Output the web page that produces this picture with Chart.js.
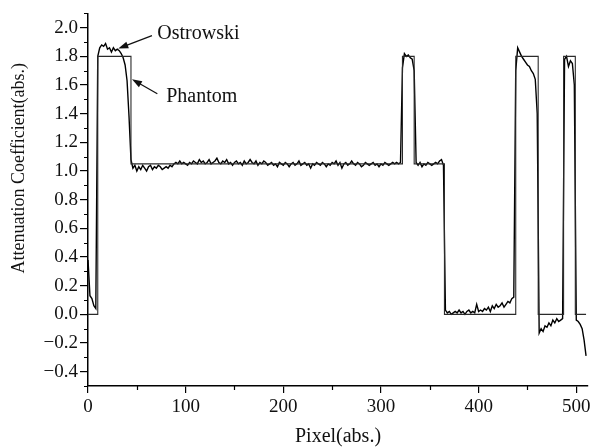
<!DOCTYPE html>
<html>
<head>
<meta charset="utf-8">
<script src="https://cdn.jsdelivr.net/npm/chart.js@4/dist/chart.umd.min.js"></script>
<style>
  html, body { margin: 0; padding: 0; background: #fff; }
  #wrap { width: 594px; height: 447px; }
</style>
</head>
<body>
<div id="wrap"><canvas id="profileChart"></canvas></div>
<script>
// Ostrowski reconstruction, one value every 2 pixels (0, 2, 4 ... 510)
const ostValue = [
    0.38, 0.13, 0.11, 0.06, 0.04, 1.80, 1.86, 1.88, 1.87, 1.89,   // 0-18
    1.85, 1.86, 1.83, 1.86, 1.84, 1.85, 1.84, 1.82, 1.79, 1.74,   // 20-38
    1.63, 1.38, 1.08, 1.02, 1.04, 1.00, 1.03, 1.01, 1.04, 1.02,   // 40-58
    1.00, 1.03, 1.04, 1.01, 1.03, 1.02, 1.04, 1.03, 1.01, 1.02,   // 60-78
    1.03, 1.02, 1.04, 1.03, 1.05, 1.06, 1.05, 1.07, 1.05, 1.06,   // 80-98
    1.05, 1.04, 1.06, 1.05, 1.07, 1.06, 1.05, 1.08, 1.06, 1.07,   // 100-118
    1.05, 1.06, 1.08, 1.05, 1.06, 1.07, 1.09, 1.06, 1.05, 1.07,   // 120-138
    1.06, 1.08, 1.05, 1.06, 1.04, 1.06, 1.07, 1.05, 1.06, 1.04,   // 140-158
    1.07, 1.05, 1.06, 1.08, 1.06, 1.05, 1.07, 1.04, 1.06, 1.05,   // 160-178
    1.07, 1.06, 1.04, 1.05, 1.06, 1.04, 1.05, 1.03, 1.06, 1.05,   // 180-198
    1.04, 1.06, 1.05, 1.03, 1.05, 1.06, 1.04, 1.05, 1.07, 1.04,   // 200-218
    1.05, 1.06, 1.04, 1.05, 1.02, 1.05, 1.04, 1.06, 1.05, 1.04,   // 220-238
    1.06, 1.05, 1.03, 1.05, 1.04, 1.06, 1.05, 1.07, 1.04, 1.06,   // 240-258
    1.02, 1.05, 1.06, 1.04, 1.05, 1.07, 1.05, 1.04, 1.06, 1.05,   // 260-278
    1.03, 1.04, 1.06, 1.05, 1.04, 1.05, 1.06, 1.04, 1.05, 1.03,   // 280-298
    1.05, 1.04, 1.06, 1.05, 1.04, 1.05, 1.06, 1.05, 1.06, 1.05,   // 300-318
    1.06, 1.72, 1.82, 1.80, 1.81, 1.79, 1.78, 1.70, 1.06, 1.04,   // 320-338
    1.06, 1.03, 1.05, 1.04, 1.06, 1.05, 1.04, 1.05, 1.06, 1.05,   // 340-358
    1.07, 1.08, 1.04, 0.03, 0.01, 0.02, 0.00, 0.01, 0.02, 0.01,   // 360-378
    0.03, 0.01, 0.02, 0.00, 0.02, 0.03, 0.01, 0.02, 0.01, 0.07,   // 380-398
    0.02, 0.03, 0.02, 0.04, 0.03, 0.05, 0.02, 0.06, 0.04, 0.07,   // 400-418
    0.05, 0.06, 0.08, 0.05, 0.07, 0.09, 0.08, 0.11, 0.12, 1.70,   // 420-438
    1.86, 1.83, 1.80, 1.78, 1.76, 1.74, 1.73, 1.70, 1.68, 1.64,   // 440-458
    1.40, -0.13, -0.10, -0.12, -0.08, -0.09, -0.06, -0.08, -0.04, -0.06, // 460-478
    -0.03, -0.05, -0.04, -0.03, 1.78, 1.80, 1.73, 1.77, 1.75, 1.60,  // 480-498
    -0.04, -0.05, -0.07, -0.10, -0.18, -0.29                       // 500-510
];
const ostPixel = ostValue.map((v, i) => i * 2);

// Phantom step profile (corner points)
const phantomPixel = [0, 10, 10, 44, 44, 322, 322, 334, 334, 365, 365, 438, 438, 461, 461, 487, 487, 499, 499, 510];
const phantomValue = [0, 0, 1.8, 1.8, 1.05, 1.05, 1.8, 1.8, 1.05, 1.05, 0, 0, 1.8, 1.8, 0, 0, 1.8, 1.8, 0, 0];

// Tick positions
const xTicks = [0, 100, 200, 300, 400, 500];
const yTicks = [-0.4, -0.2, 0, 0.2, 0.4, 0.6, 0.8, 1.0, 1.2, 1.4, 1.6, 1.8, 2.0];
const xMinorTicks = [50, 150, 250, 350, 450];
const yMinorTicks = [-0.5, -0.3, -0.1, 0.1, 0.3, 0.5, 0.7, 0.9, 1.1, 1.3, 1.5, 1.7, 1.9, 2.1];

// Curve labels with arrows, in data coordinates
const callouts = [
    { text: 'Ostrowski', label: [71, 1.96], tail: [65.5, 1.945], tip: [31, 1.855] },
    { text: 'Phantom', label: [80, 1.515], tail: [71, 1.54], tip: [45, 1.64] }
];

const SERIF = '"Liberation Serif", "Times New Roman", serif';

const toPoints = (xs, ys) => xs.map((x, i) => ({ x: x, y: ys[i] }));

/**
 * Minor ticks on both axes
 */
const minorTicks = {
    id: 'minorTicks',
    afterDraw(chart) {
        const { ctx, chartArea, scales } = chart;
        ctx.save();
        ctx.strokeStyle = '#000';
        ctx.lineWidth = 1.2;
        ctx.beginPath();
        yMinorTicks.forEach(v => {
            const py = Math.round(scales.y.getPixelForValue(v)) + 0.5;
            ctx.moveTo(chartArea.left - 4, py);
            ctx.lineTo(chartArea.left, py);
        });
        xMinorTicks.forEach(v => {
            const px = Math.round(scales.x.getPixelForValue(v)) + 0.5;
            ctx.moveTo(px, chartArea.bottom);
            ctx.lineTo(px, chartArea.bottom + 4);
        });
        ctx.stroke();
        ctx.restore();
    }
};

/**
 * Text labels with arrows pointing at the curves
 */
const calloutPlugin = {
    id: 'callouts',
    afterDatasetsDraw(chart) {
        const { ctx, scales } = chart;
        const px = p => [scales.x.getPixelForValue(p[0]), scales.y.getPixelForValue(p[1])];
        ctx.save();
        ctx.fillStyle = '#111';
        ctx.strokeStyle = '#111';
        ctx.lineWidth = 1.2;
        ctx.font = '20px ' + SERIF;
        ctx.textAlign = 'left';
        ctx.textBaseline = 'middle';
        callouts.forEach(c => {
            const [lx, ly] = px(c.label);
            ctx.fillText(c.text, lx, ly);
            const [tx, ty] = px(c.tail);
            const [hx, hy] = px(c.tip);
            const ang = Math.atan2(hy - ty, hx - tx);
            ctx.beginPath();
            ctx.moveTo(tx, ty);
            ctx.lineTo(hx - 6 * Math.cos(ang), hy - 6 * Math.sin(ang));
            ctx.stroke();
            ctx.beginPath();
            ctx.moveTo(hx, hy);
            ctx.lineTo(hx - 10 * Math.cos(ang) + 3.5 * Math.sin(ang), hy - 10 * Math.sin(ang) - 3.5 * Math.cos(ang));
            ctx.lineTo(hx - 10 * Math.cos(ang) - 3.5 * Math.sin(ang), hy - 10 * Math.sin(ang) + 3.5 * Math.cos(ang));
            ctx.closePath();
            ctx.fill();
        });
        ctx.restore();
    }
};

new Chart(document.getElementById('profileChart'), {
    type: 'line',
    data: {
        datasets: [
            {
                label: 'Phantom',
                data: toPoints(phantomPixel, phantomValue),
                borderColor: '#2a2a2a',
                borderWidth: 1.1,
                pointRadius: 0,
                tension: 0
            },
            {
                label: 'Ostrowski',
                data: toPoints(ostPixel, ostValue),
                borderColor: '#000',
                borderWidth: 1.4,
                pointRadius: 0,
                tension: 0
            }
        ]
    },
    options: {
        responsive: true,
        maintainAspectRatio: false,
        animation: false,
        layout: { padding: { top: 12, right: 6, bottom: 0, left: 0 } },
        plugins: {
            legend: { display: false },
            tooltip: { enabled: false }
        },
        scales: {
            x: {
                type: 'linear',
                min: 0,
                max: 512,
                afterBuildTicks: scale => { scale.ticks = xTicks.map(v => ({ value: v })); },
                afterFit: scale => { scale.height = 61; },
                border: { display: true, color: '#000', width: 1.5 },
                grid: { drawOnChartArea: false, drawTicks: true, tickLength: 7, color: '#000', lineWidth: 1.2 },
                ticks: {
                    padding: 3,
                    color: '#111',
                    maxRotation: 0,
                    font: { family: SERIF, size: 19 }
                },
                title: {
                    display: true,
                    text: 'Pixel(abs.)',
                    color: '#111',
                    padding: { top: 0, bottom: 0 },
                    font: { family: SERIF, size: 20, lineHeight: 1 }
                }
            },
            y: {
                min: -0.5,
                max: 2.1,
                afterBuildTicks: scale => { scale.ticks = yTicks.map(v => ({ value: v })); },
                afterFit: scale => { scale.width = 88; },
                border: { display: true, color: '#000', width: 1.5 },
                grid: { drawOnChartArea: false, drawTicks: true, tickLength: 8, color: '#000', lineWidth: 1.2 },
                ticks: {
                    padding: 2,
                    color: '#111',
                    font: { family: SERIF, size: 19 },
                    callback: v => (v < 0 ? '\u2212' : '') + Math.abs(v).toFixed(1)
                },
                title: {
                    display: true,
                    text: '              Attenuation Coefficient(abs.)',
                    color: '#111',
                    padding: { top: 10, bottom: 0 },
                    font: { family: SERIF, size: 18, lineHeight: 1 }
                }
            }
        }
    },
    plugins: [minorTicks, calloutPlugin]
});
</script>
</body>
</html>
